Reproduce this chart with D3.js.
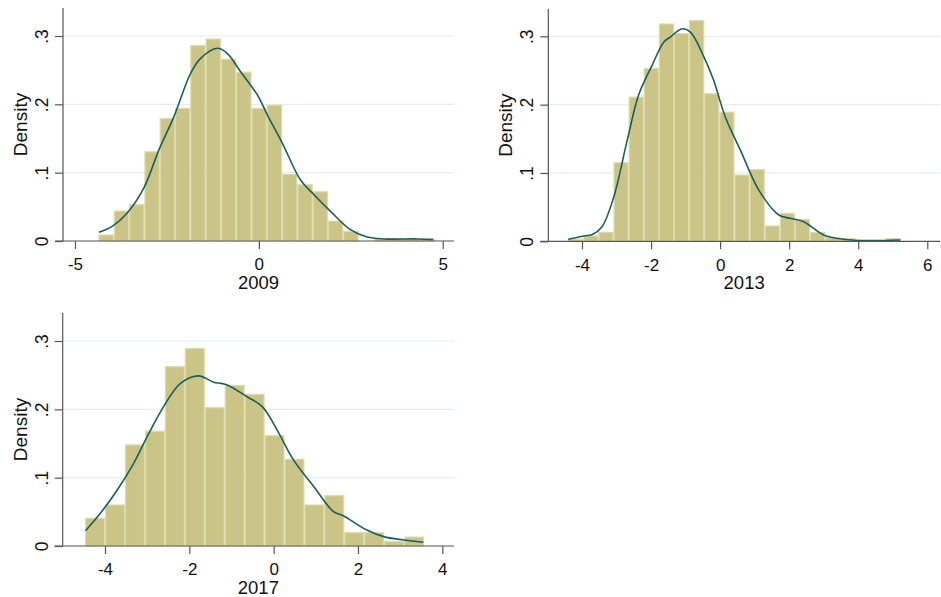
<!DOCTYPE html>
<html lang="en">
<head>
<meta charset="utf-8">
<title>density histograms</title>
<script src="https://d3js.org/d3.v7.min.js"></script>
<style>
  body { margin: 0; background: #fff; }
  svg { display: block; font-family: "Liberation Sans", Arial, sans-serif; }
</style>
</head>
<body>
<script>
// ---- data ----
const yTicks = [0, 0.1, 0.2, 0.3];

// 2009
const start2009 = -4.36, width2009 = 0.416;
const bins2009 = [0.0088, 0.0438, 0.053, 0.1305, 0.179, 0.194, 0.286, 0.2956, 0.266, 0.247,
                  0.194, 0.1987, 0.0974, 0.0823, 0.072, 0.029, 0.014, 0, 0.003, 0.003, 0.003, 0.003];
const kdeX2009 = [-4.35, -3.99, -3.58, -3.13, -2.72, -2.31, -1.86, -1.59, -1.13, -0.86, -0.50,
                  -0.04, 0.23, 0.64, 1.13, 1.50, 1.95, 2.49, 2.95, 3.40, 4.31, 4.74];
const kdeY2009 = [0.0127, 0.0214, 0.041, 0.0774, 0.133, 0.182, 0.245, 0.267, 0.282, 0.2747, 0.248,
                  0.2138, 0.1846, 0.143, 0.0896, 0.0677, 0.0433, 0.0166, 0.0058, 0.003, 0.003, 0.002];
const xTicks2009 = [-5, 0, 5];

// 2013
const start2013 = -4.40, width2013 = 0.4377;
const bins2013 = [0.003, 0.0078, 0.013, 0.115, 0.211, 0.253, 0.318, 0.304, 0.323, 0.216, 0.189,
                  0.097, 0.105, 0.0224, 0.041, 0.032, 0.013, 0.005, 0.004, 0, 0, 0.004];
const kdeX2013 = [-4.40, -3.95, -3.70, -3.42, -3.08, -2.69, -2.36, -1.97, -1.63, -1.44, -1.10,
                  -0.86, -0.47, -0.19, 0.15, 0.59, 1.12, 1.70, 2.03, 2.42, 3.0, 3.58, 4.35, 5.22];
const kdeY2013 = [0.003, 0.0078, 0.010, 0.0214, 0.065, 0.148, 0.214, 0.2576, 0.2917, 0.299, 0.311,
                  0.306, 0.27, 0.236, 0.182, 0.133, 0.075, 0.0385, 0.0336, 0.0287, 0.0093, 0.003, 0.001, 0.002];
const xTicks2013 = [-4, -2, 0, 2, 4, 6];

// 2017
const start2017 = -4.47, width2017 = 0.4727;
const bins2017 = [0.0405, 0.06, 0.148, 0.168, 0.2624, 0.289, 0.2024, 0.235, 0.222, 0.1615,
                  0.127, 0.06, 0.0737, 0.0195, 0.0195, 0.0063, 0.013];
const kdeX2017 = [-4.46, -4.11, -3.71, -3.32, -3.0, -2.61, -2.21, -1.78, -1.42, -1.25, -1.10,
                  -0.63, -0.27, 0.08, 0.47, 0.95, 1.42, 1.66, 2.21, 2.61, 3.08, 3.55];
const kdeY2017 = [0.0224, 0.0478, 0.082, 0.121, 0.16, 0.204, 0.238, 0.249, 0.2396, 0.238, 0.2356,
                  0.2185, 0.204, 0.17, 0.126, 0.087, 0.0502, 0.0439, 0.0234, 0.0137, 0.0088, 0.0054];
const xTicks2017 = [-4, -2, 0, 2, 4];

const titles = ["2009", "2013", "2017"];

// ---- layout ----
const W = 941, H = 597;
const svg = d3.select("body").append("svg").attr("width", W).attr("height", H);

const panels = [
  { title: titles[0], start: start2009, bw: width2009, bins: bins2009, kx: kdeX2009, ky: kdeY2009,
    ticks: xTicks2009, left: 63, right: 454, top: 8, base: 241, x0: [-5, 75], x1: [5, 442.7] },
  { title: titles[1], start: start2013, bw: width2013, bins: bins2013, kx: kdeX2013, ky: kdeY2013,
    ticks: xTicks2013, left: 548.3, right: 940, top: 9, base: 241.3, x0: [-4, 582], x1: [6, 927.3] },
  { title: titles[2], start: start2017, bw: width2017, bins: bins2017, kx: kdeX2017, ky: kdeY2017,
    ticks: xTicks2017, left: 62.7, right: 454, top: 313, base: 546, x0: [-4, 105], x1: [4, 442.3] }
];

const barFill = "#cac487", barEdge = "#dedaaa", lineCol = "#1b5f5b",
      gridCol = "#e4eef1", axisCol = "#555";

panels.forEach(p => {
  const g = svg.append("g");
  const x = d3.scaleLinear().domain([p.x0[0], p.x1[0]]).range([p.x0[1], p.x1[1]]);
  const y = d3.scaleLinear().domain([0, 0.1]).range([p.base, p.base - 68.33]);

  // grid
  g.selectAll(".grid").data(yTicks.filter(d => d > 0)).join("line")
    .attr("x1", p.left).attr("x2", p.right)
    .attr("y1", d => y(d)).attr("y2", d => y(d))
    .attr("stroke", gridCol).attr("stroke-width", 1.2);

  // bars
  const bars = p.bins.map((v, i) => ({ x0: p.start + i * p.bw, x1: p.start + (i + 1) * p.bw, v }))
    .filter(d => d.v > 0);
  g.selectAll("rect").data(bars).join("rect")
    .attr("x", d => x(d.x0) + 0.5)
    .attr("width", d => x(d.x1) - x(d.x0) - 1)
    .attr("y", d => y(d.v))
    .attr("height", d => p.base - y(d.v))
    .attr("fill", barFill)
    .attr("stroke", barEdge)
    .attr("stroke-width", 1.2);

  // kernel density curve
  const line = d3.line().x(d => x(d[0])).y(d => y(d[1])).curve(d3.curveCatmullRom.alpha(0.5));
  g.append("path")
    .datum(p.kx.map((v, i) => [v, p.ky[i]]))
    .attr("d", line)
    .attr("fill", "none")
    .attr("stroke", lineCol)
    .attr("stroke-width", 1.6)
    .attr("stroke-linejoin", "round");

  // x axis
  const xa = g.append("g").attr("transform", `translate(0,${p.base})`)
    .call(d3.axisBottom(x).tickValues(p.ticks).tickSize(8).tickFormat(d3.format("d")));
  xa.select(".domain").remove();
  xa.selectAll(".tick line").attr("stroke", axisCol).attr("stroke-width", 1.2);
  xa.selectAll("text").attr("y", 23.5).attr("dy", "0.35em")
    .attr("font-size", 17).attr("fill", "#111")
    .attr("font-family", "Liberation Sans, Arial, sans-serif")
    .text(d => d < 0 ? "-" + Math.abs(d) : d);
  g.append("line")
    .attr("x1", p.left - 8).attr("x2", p.right)
    .attr("y1", p.base).attr("y2", p.base)
    .attr("stroke", axisCol).attr("stroke-width", 1.2);

  // y axis
  const ya = g.append("g").attr("transform", `translate(${p.left},0)`)
    .call(d3.axisLeft(y).tickValues(yTicks).tickSize(8)
      .tickFormat(d => d === 0 ? "0" : d3.format(".1f")(d).replace(/^0/, "")));
  ya.select(".domain").remove();
  ya.selectAll(".tick line").attr("stroke", axisCol).attr("stroke-width", 1.2);
  ya.selectAll("text")
    .attr("x", null).attr("dy", "0.35em")
    .attr("transform", "translate(-21,0) rotate(-90)")
    .attr("text-anchor", "middle")
    .attr("font-size", 17.5).attr("fill", "#111")
    .attr("font-family", "Liberation Sans, Arial, sans-serif");
  g.append("line")
    .attr("x1", p.left).attr("x2", p.left)
    .attr("y1", p.top).attr("y2", p.base)
    .attr("stroke", axisCol).attr("stroke-width", 1.2);

  // titles
  g.append("text")
    .attr("x", (p.left + p.right) / 2).attr("y", p.base + 41.5).attr("dy", "0.35em")
    .attr("text-anchor", "middle").attr("font-size", 18.5).attr("fill", "#111")
    .text(p.title);
  g.append("text")
    .attr("transform", `translate(${p.left - 42.5},${(p.top + p.base) / 2}) rotate(-90)`)
    .attr("dy", "0.35em")
    .attr("text-anchor", "middle").attr("font-size", 19).attr("fill", "#111")
    .text("Density");
});
</script>
</body>
</html>
